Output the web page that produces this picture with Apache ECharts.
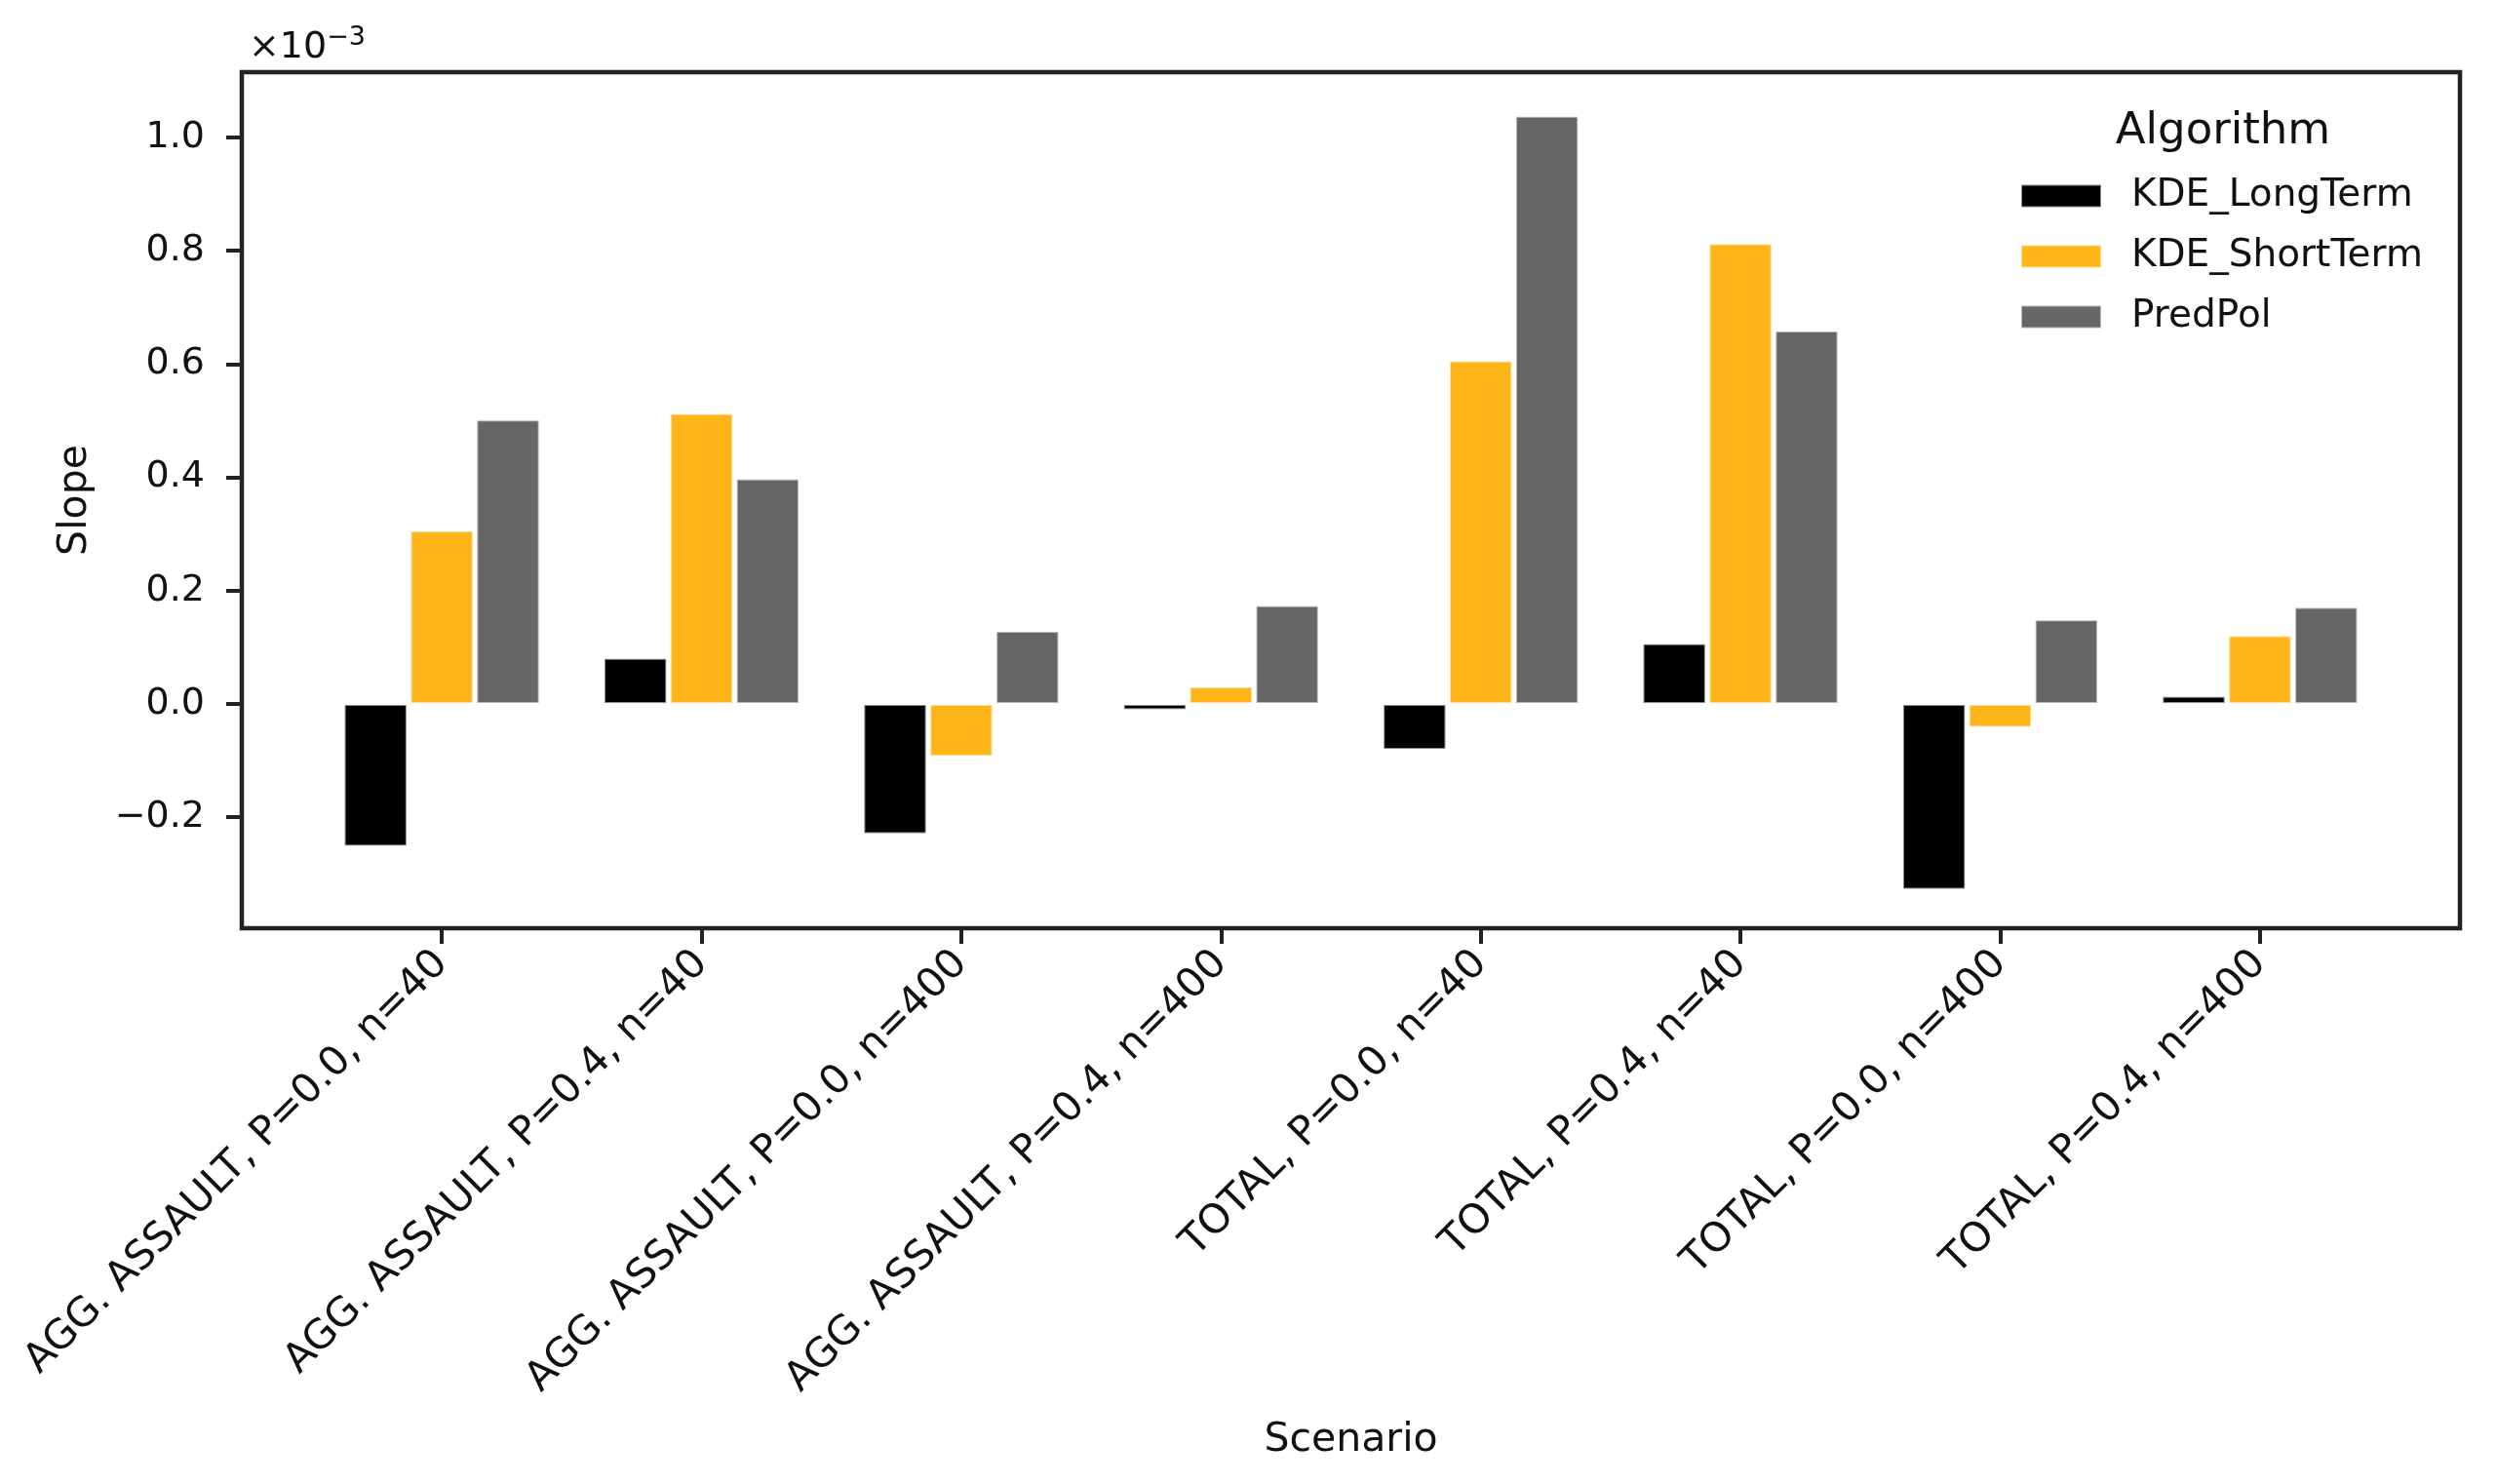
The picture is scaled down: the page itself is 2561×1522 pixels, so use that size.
<!DOCTYPE html>
<html>
<head>
<meta charset="utf-8">
<script src="https://cdn.jsdelivr.net/npm/echarts@6/dist/echarts.min.js"></script>
<style>
  html, body { margin: 0; padding: 0; background: #fff; }
  #chart { width: 2561px; height: 1522px; }
</style>
</head>
<body>
<div id="chart"></div>
<script>
// slope values, in units of 1e-3
const scenarios = [
  'AGG. ASSAULT, P=0.0, n=40',
  'AGG. ASSAULT, P=0.4, n=40',
  'AGG. ASSAULT, P=0.0, n=400',
  'AGG. ASSAULT, P=0.4, n=400',
  'TOTAL, P=0.0, n=40',
  'TOTAL, P=0.4, n=40',
  'TOTAL, P=0.0, n=400',
  'TOTAL, P=0.4, n=400',
]
const algorithms = ['KDE_LongTerm', 'KDE_ShortTerm', 'PredPol']
const kdeLongTerm = [-0.252, 0.081, -0.230, -0.011, -0.081, 0.107, -0.328, 0.014]
const kdeShortTerm = [0.306, 0.513, -0.093, 0.031, 0.606, 0.813, -0.042, 0.121]
const predPol = [0.502, 0.398, 0.129, 0.174, 1.038, 0.659, 0.149, 0.171]
const yTicks = [-0.2, 0, 0.2, 0.4, 0.6, 0.8, 1.0]

const colors = ['#000000', '#fdb51a', '#666666']
const font = 'DejaVu Sans'
const ink = '#222'

const chart = echarts.init(document.getElementById('chart'))

function barSeries(name, values, color) {
  return {
    name,
    type: 'bar',
    data: values.map((v, i) => [i, v]),
    barWidth: '24.5%',
    barGap: '4%',
    itemStyle: { color, borderColor: 'rgba(255,255,255,0.55)', borderWidth: 2 },
  }
}

chart.setOption({
  animation: false,
  textStyle: { fontFamily: font },
  title: [
    {
      text: 'Algorithm',
      left: 2275,
      top: 108,
      textAlign: 'center',
      textStyle: { fontFamily: font, fontSize: 45, fontWeight: 'normal', color: '#111' },
    },
    {
      text: '×10{sup|−3}',
      left: 250,
      top: 20,
      textStyle: {
        fontFamily: font, fontSize: 38, fontWeight: 'normal', color: '#111',
        rich: { sup: { fontFamily: font, fontSize: 27, color: '#111', padding: [0, 0, 22, 0] } },
      },
    },
  ],
  legend: {
    data: algorithms,
    orient: 'vertical',
    left: 2067,
    top: 176,
    icon: 'rect',
    itemWidth: 82,
    itemHeight: 23,
    itemGap: 22,
    textStyle: { fontFamily: font, fontSize: 39, lineHeight: 40, color: '#111', padding: [0, 0, 0, 26] },
  },
  grid: {
    left: 248, right: 38, top: 74, bottom: 570,
    show: true, borderColor: ink, borderWidth: 4.5,
    outerBoundsMode: 'none',
  },
  xAxis: {
    type: 'value',
    min: -0.77,
    max: 7.77,
    name: 'Scenario',
    nameLocation: 'middle',
    nameGap: 505,
    nameTextStyle: { fontFamily: font, fontSize: 41, color: '#111' },
    axisLine: { show: false, onZero: false },
    splitLine: { show: false },
    axisTick: {
      show: true, length: 16,
      customValues: scenarios.map((_, i) => i),
      lineStyle: { color: ink, width: 4 },
    },
    axisLabel: {
      rotate: 45,
      margin: 30,
      fontSize: 41.5,
      color: '#111',
      customValues: scenarios.map((_, i) => i),
      formatter: (v) => scenarios[Math.round(v)] ?? '',
    },
  },
  yAxis: {
    type: 'value',
    min: -0.396,
    max: 1.115,
    name: 'Slope',
    nameLocation: 'middle',
    nameGap: 150,
    nameTextStyle: { fontFamily: font, fontSize: 41, color: '#111' },
    axisLine: { show: false, onZero: false },
    splitLine: { show: false },
    axisTick: {
      show: true, length: 16,
      customValues: yTicks,
      lineStyle: { color: ink, width: 4 },
    },
    axisLabel: {
      margin: 38,
      fontSize: 38,
      color: '#111',
      customValues: yTicks,
      formatter: (v) => v.toFixed(1).replace('-', '−'),
    },
  },
  series: [
    barSeries(algorithms[0], kdeLongTerm, colors[0]),
    barSeries(algorithms[1], kdeShortTerm, colors[1]),
    barSeries(algorithms[2], predPol, colors[2]),
  ],
})
</script>
</body>
</html>
